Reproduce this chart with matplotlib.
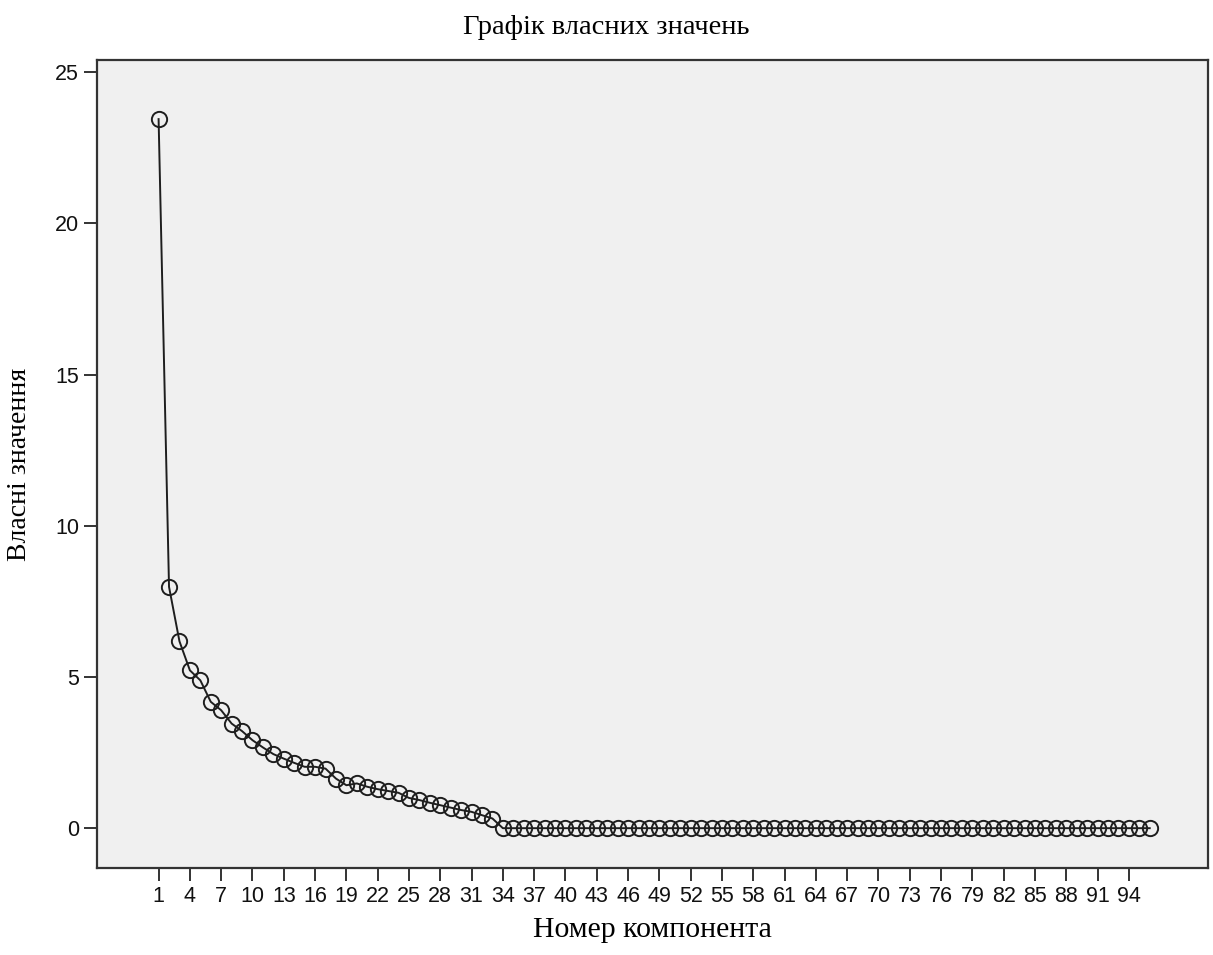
import matplotlib
matplotlib.use("Agg")
import matplotlib.pyplot as plt

# eigenvalues (components 1..33), rest are ~0
first_vals = [23.45, 7.98, 6.18, 5.22, 4.89, 4.18, 3.90, 3.46, 3.21, 2.91,
              2.67, 2.45, 2.30, 2.16, 2.03, 2.03, 1.97, 1.64, 1.42, 1.48,
              1.37, 1.29, 1.23, 1.17, 1.00, 0.93, 0.84, 0.76, 0.68, 0.60,
              0.54, 0.43, 0.32]
n_comp = 96
eigen = first_vals + [0.0] * (n_comp - len(first_vals))
comp = list(range(1, n_comp + 1))
xticks = list(range(1, 95, 3))
yticks = [0, 5, 10, 15, 20, 25]

fig = plt.figure(figsize=(12.13, 9.55), dpi=100)
ax = fig.add_axes([0.080, 0.091, 0.916, 0.846])
ax.set_facecolor("#f0f0f0")

ax.plot(comp, eigen, color="#1e1e1e", linewidth=1.4, marker="o",
        markersize=11, markerfacecolor="none", markeredgecolor="#1e1e1e",
        markeredgewidth=1.4)

ax.set_xlim(-4.9, 101.6)
ax.set_ylim(-1.32, 25.4)
ax.set_xticks(xticks)
ax.set_yticks(yticks)
for s in ax.spines.values():
    s.set_linewidth(1.6)
    s.set_color("#333333")
ax.tick_params(direction="out", length=9.5, width=1.4, color="#333333",
               labelsize=15.5, labelcolor="#111111")
for lab in ax.get_xticklabels() + ax.get_yticklabels():
    lab.set_fontfamily("Liberation Sans")

# titles placed in figure coords
fig.text(0.5, 0.971, "Графік власних значень", ha="center", va="center",
         fontsize=20.5, family="Liberation Serif")
fig.text(0.538, 0.026, "Номер компонента", ha="center", va="center",
         fontsize=21.5, family="Liberation Serif")
fig.text(0.016, 0.514, "Власні значення", ha="center", va="center",
         rotation=90, fontsize=20, family="Liberation Serif")

fig.savefig("out.png", dpi=100)
